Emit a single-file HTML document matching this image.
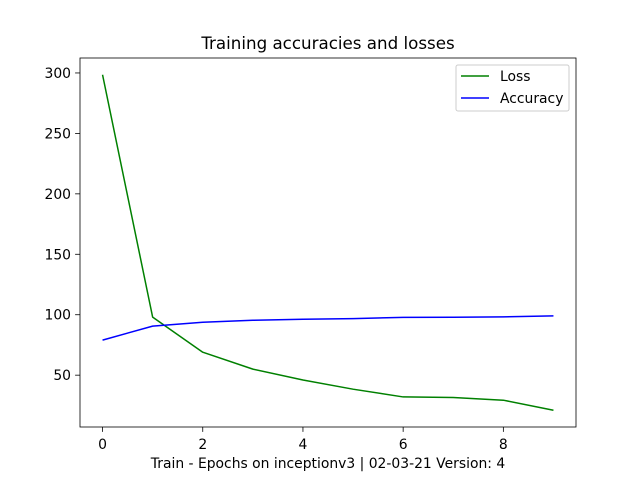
<!DOCTYPE html>
<html><head><meta charset="utf-8"><style>
body{margin:0;background:#fff;}
svg text{font-family:"DejaVu Sans","Liberation Sans",sans-serif;}
</style></head><body>
<svg id="chart" width="640" height="480" xmlns="http://www.w3.org/2000/svg"></svg>
<script>
const epochs=[0,1,2,3,4,5,6,7,8,9];
const lossValues=[298.5,98,69,55,46,38.4,32,31.5,29.3,21];
const accuracyValues=[79,90.6,93.8,95.4,96.3,96.8,97.8,97.9,98.2,99.1];
const xTicks=[0,2,4,6,8];
const yTicks=[50,100,150,200,250,300];
const L=80,R=576,T=58,B=427;
const svg=document.getElementById('chart');
const NS='http://www.w3.org/2000/svg';
const allY=lossValues.concat(accuracyValues);
const ymin0=Math.min(...allY),ymax0=Math.max(...allY),yr=ymax0-ymin0;
const ymin=ymin0-0.05*yr,ymax=ymax0+0.05*yr;
const xmin=epochs[0]-0.05*(epochs[epochs.length-1]-epochs[0]),xmax=epochs[epochs.length-1]+0.05*(epochs[epochs.length-1]-epochs[0]);
const xs=v=>L+(v-xmin)/(xmax-xmin)*(R-L);
const ys=v=>B-(v-ymin)/(ymax-ymin)*(B-T);
function mk(tag,attrs,text){const e=document.createElementNS(NS,tag);for(const k in attrs)e.setAttribute(k,attrs[k]);if(text!==undefined)e.textContent=text;svg.appendChild(e);return e;}
let e=mk('rect',{x:L,y:T,width:R-L,height:B-T,fill:'none',stroke:'#000','stroke-width':0.8});


xTicks.forEach(t=>{const x=xs(t);
 let l=mk('line',{x1:x,x2:x,y1:B,y2:B+4.9,stroke:'#000','stroke-width':0.8});
 
 
 let s=mk('text',{x:x,y:B+22,'font-size':13.9,'text-anchor':'middle'},String(t));
 
 
});
yTicks.forEach(t=>{const y=ys(t);
 let l=mk('line',{x1:L-4.9,x2:L,y1:y,y2:y,stroke:'#000','stroke-width':0.8});
 
 
 let s=mk('text',{x:L-9,y:y+5,'font-size':13.9,'text-anchor':'end'},String(t));
 
 
});
function series(vals,color,name){
 const p=mk('polyline',{points:epochs.map((x,i)=>xs(x)+','+ys(vals[i])).join(' '),fill:'none',stroke:color,'stroke-width':1.5,'stroke-linejoin':'round'});
 
 
}
series(lossValues,'#008000','loss-line');
series(accuracyValues,'#0000ff','accuracy-line');
let t=mk('text',{x:(L+R)/2,y:49,'font-size':16.7,'text-anchor':'middle'},'Training accuracies and losses');


let xl=mk('text',{x:(L+R)/2,y:468,'font-size':13.9,'text-anchor':'middle'},'Train - Epochs on inceptionv3 | 02-03-21 Version: 4');


let lg=mk('rect',{x:456,y:65,width:113,height:46,rx:2,fill:'#fff',stroke:'#ccc','stroke-width':1});


[['Loss','#008000',76],['Accuracy','#0000ff',98]].forEach(([n,c,y])=>{
 let l=mk('line',{x1:461,x2:489,y1:y,y2:y,stroke:c,'stroke-width':1.5});
 
 
 let s=mk('text',{x:500,y:y+5,'font-size':13.9},n);
 
 
});
</script>
</body></html>
